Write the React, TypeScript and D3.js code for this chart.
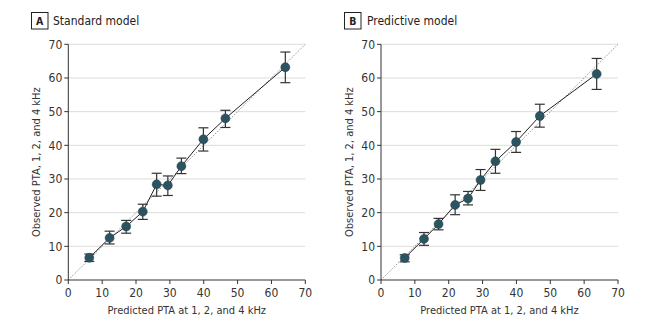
import React from "react";
import * as d3 from "d3";

const W = 653;
const H = 326;

const ticks = [0, 10, 20, 30, 40, 50, 60, 70];

// Panel A: Standard model
const aPredicted = [6.2, 12.2, 17.1, 22.0, 26.1, 29.4, 33.4, 39.9, 46.4, 64.1];
const aObserved = [6.6, 12.5, 15.9, 20.3, 28.4, 28.1, 33.8, 41.8, 48.0, 63.2];
const aLow = [5.5, 10.7, 13.9, 18.0, 24.9, 25.1, 31.6, 38.3, 45.3, 58.6];
const aHigh = [7.7, 14.5, 17.7, 22.5, 31.7, 30.9, 36.2, 45.2, 50.4, 67.7];

// Panel B: Predictive model
const bPredicted = [7.0, 12.7, 17.0, 21.9, 25.7, 29.4, 33.8, 39.9, 46.9, 63.7];
const bObserved = [6.55, 12.2, 16.6, 22.3, 24.2, 29.7, 35.25, 41.0, 48.7, 61.2];
const bLow = [5.4, 10.3, 14.9, 19.4, 22.3, 26.6, 31.7, 37.9, 45.4, 56.6];
const bHigh = [7.5, 14.1, 18.3, 25.3, 26.3, 32.8, 38.8, 44.1, 52.2, 65.8];

const panels = [
  { letter: "A", title: "Standard model", x0: 68.3, pred: aPredicted, obs: aObserved, lo: aLow, hi: aHigh, boxX: 31, titleX: 53 },
  { letter: "B", title: "Predictive model", x0: 381, pred: bPredicted, obs: bObserved, lo: bLow, hi: bHigh, boxX: 344, titleX: 367 },
];

const xLabel = "Predicted PTA at 1, 2, and 4 kHz";
const yLabel = "Observed PTA, 1, 2, and 4 kHz";

const FONT = "'Liberation Sans Narrow', 'DejaVu Sans Condensed', Roboto, sans-serif";
const TEXT = "#333";
const DOT = "#2b5460";

function Panel({ p }: { p: (typeof panels)[number] }) {
  const plotW = 237;
  const top = 44.3;
  const bottom = 280;
  const x = d3.scaleLinear().domain([0, 70]).range([p.x0, p.x0 + plotW]);
  const y = d3.scaleLinear().domain([0, 70]).range([bottom, top]);
  const pts = p.pred.map((v, i) => ({ x: v, y: p.obs[i], lo: p.lo[i], hi: p.hi[i] }));
  const line = d3
    .line<{ x: number; y: number }>()
    .x((d) => x(d.x))
    .y((d) => y(d.y));
  return (
    <g>
      {/* title */}
      <rect x={p.boxX + 0.5} y={12.5} width={16.5} height={16.5} fill="none" stroke="#222" strokeWidth={1} />
      <text x={p.boxX + 8.75} y={24.8} textAnchor="middle" fontSize={10.5} fontWeight="bold" fill="#222" fontFamily={FONT}>
        {p.letter}
      </text>
      <text x={p.titleX} y={25} fontSize={12} fill="#222" fontFamily={FONT}>
        {p.title}
      </text>
      {/* gridlines */}
      {ticks.filter((t) => t > 0).map((t) => (
        <line key={"g" + t} x1={x(0)} x2={x(70)} y1={y(t)} y2={y(t)} stroke="#dcdcdc" strokeWidth={1} />
      ))}
      {/* diagonal */}
      <line x1={x(0)} y1={y(0)} x2={x(70)} y2={y(70)} stroke="#777" strokeWidth={0.8} strokeDasharray="1.5,1.5" />
      {/* axes */}
      <line x1={x(0)} x2={x(0)} y1={y(0)} y2={y(70)} stroke={TEXT} strokeWidth={1} />
      <line x1={x(0)} x2={x(70)} y1={y(0)} y2={y(0)} stroke={TEXT} strokeWidth={1} />
      {ticks.map((t) => (
        <g key={"yt" + t}>
          <line x1={x(0) - 4} x2={x(0)} y1={y(t)} y2={y(t)} stroke={TEXT} />
          <text x={x(0) - 6} y={y(t)} dy="0.35em" textAnchor="end" fontSize={12} fill={TEXT} fontFamily={FONT}>
            {t}
          </text>
        </g>
      ))}
      {ticks.map((t) => (
        <g key={"xt" + t}>
          <line x1={x(t)} x2={x(t)} y1={y(0)} y2={y(0) + 4} stroke={TEXT} />
          <text x={x(t)} y={y(0) + 17} textAnchor="middle" fontSize={12} fill={TEXT} fontFamily={FONT}>
            {t}
          </text>
        </g>
      ))}
      <text x={x(35)} y={314} textAnchor="middle" fontSize={11} fill={TEXT} fontFamily={FONT}>
        {xLabel}
      </text>
      <text
        transform={`translate(${p.x0 - 28.5},${y(35)}) rotate(-90)`}
        textAnchor="middle"
        fontSize={11}
        fill={TEXT}
        fontFamily={FONT}
      >
        {yLabel}
      </text>
      {/* connecting line */}
      <path d={line(pts) || ""} fill="none" stroke="#222" strokeWidth={1} />
      {/* error bars */}
      {pts.map((d, i) => (
        <g key={"e" + i} stroke="#333" strokeWidth={1.2}>
          <line x1={x(d.x)} x2={x(d.x)} y1={y(d.lo)} y2={y(d.hi)} />
          <line x1={x(d.x) - 5} x2={x(d.x) + 5} y1={y(d.lo)} y2={y(d.lo)} />
          <line x1={x(d.x) - 5} x2={x(d.x) + 5} y1={y(d.hi)} y2={y(d.hi)} />
        </g>
      ))}
      {pts.map((d, i) => (
        <circle key={"c" + i} cx={x(d.x)} cy={y(d.y)} r={4.5} fill={DOT} stroke="#1f3f48" strokeWidth={0.5} />
      ))}
    </g>
  );
}

export default function App() {
  return (
    <svg width={W} height={H} style={{ position: "absolute", left: 0, top: 0, background: "#fff" }}>
      <rect width={W} height={H} fill="#fff" />
      {panels.map((p) => (
        <Panel key={p.letter} p={p} />
      ))}
    </svg>
  );
}
